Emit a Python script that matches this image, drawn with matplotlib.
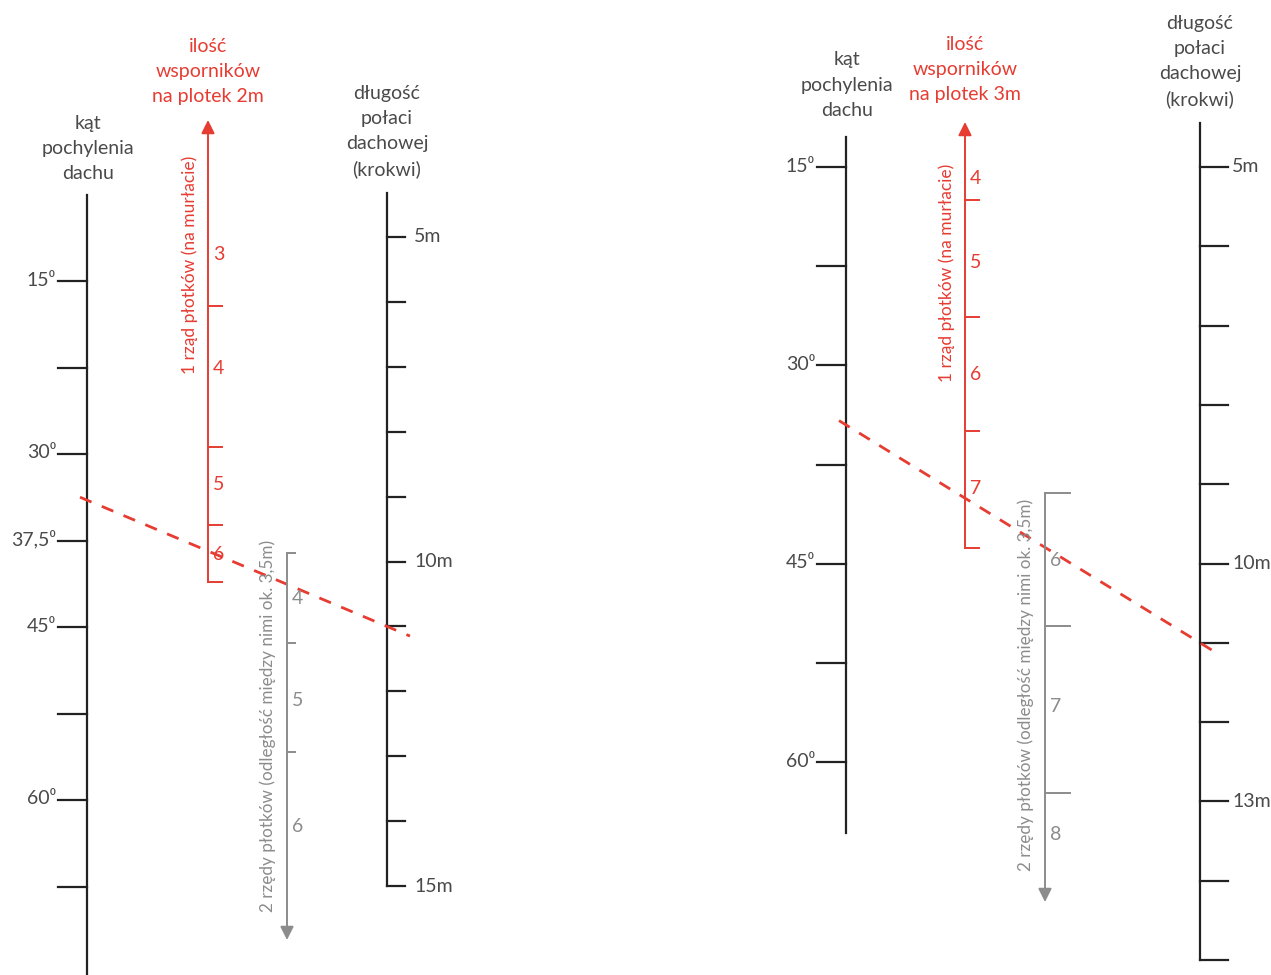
import matplotlib.pyplot as plt

plt.rcParams['font.family'] = ['Lato', 'DejaVu Sans']

RED = '#e63c32'
GRAY = '#8c8c8c'
INK = '#222222'
TXT = '#4a4a4a'

# ---- scale values ----
angle_ticks_L = [15, 22.5, 30, 37.5, 45, 52.5, 60, 67.5]
angle_labels_L = {15: '15⁰', 30: '30⁰', 37.5: '37,5⁰', 45: '45⁰', 60: '60⁰'}
angle_ticks_R = [15, 22.5, 30, 37.5, 45, 52.5, 60]
angle_labels_R = {15: '15⁰', 30: '30⁰', 45: '45⁰', 60: '60⁰'}

length_ticks = list(range(5, 16))
length_labels_L = {5: '5m', 10: '10m', 15: '15m'}
length_labels_R = {5: '5m', 10: '10m', 13: '13m'}

# supports per fence (one row, on the wall plate) - labels and boundaries
red_labels_L = ['3', '4', '5', '6']
red_label_y_L = [255, 369, 485, 555]
red_ticks_y_L = [306, 447, 525, 582]
red_labels_R = ['4', '5', '6', '7']
red_label_y_R = [178, 262, 375, 488]
red_ticks_y_R = [200, 317, 431, 548]

# two rows of fences
gray_labels_L = ['4', '5', '6']
gray_label_y_L = [598, 700, 826]
gray_ticks_y_L = [553, 643, 752]
gray_labels_R = ['6', '7', '8']
gray_label_y_R = [560, 707, 834]
gray_ticks_y_R = [493, 626, 793]

# example reading: angle -> length
example_L = (34.0, 11.0)
example_R = (34.5, 11.0)

hdr_angle = ['kąt', 'pochylenia', 'dachu']
hdr_red_L = ['ilość', 'wsporników', 'na plotek 2m']
hdr_red_R = ['ilość', 'wsporników', 'na plotek 3m']
hdr_len = ['długość', 'połaci', 'dachowej', '(krokwi)']
lbl_red = '1 rząd płotków (na murłacie)'
lbl_gray = '2 rzędy płotków (odległość między nimi ok. 3,5m)'

fig = plt.figure(figsize=(12.71, 9.75), dpi=100)
ax = fig.add_axes([0, 0, 1, 1])
ax.set_xlim(0, 1271)
ax.set_ylim(975, 0)
ax.axis('off')


def header(x, y0, lines, color):
    for i, s in enumerate(lines):
        ax.text(x, y0 + i * 25.3, s, color=color, fontsize=14,
                ha='center', va='center')


def panel(P):
    # angle scale
    ay = lambda a: P['a0'] + (a - 15) * P['astep'] / 7.5
    ax.plot([P['ax'], P['ax']], P['aspan'], color=INK, lw=1.6)
    for a in P['aticks']:
        ax.plot([P['ax'] - 29, P['ax']], [ay(a), ay(a)], color=INK, lw=1.6)
        if a in P['alabels']:
            ax.text(P['ax'] - 31, ay(a) - 1, P['alabels'][a], color=TXT,
                    fontsize=14, ha='right', va='center')
    # length scale
    ly = lambda l: P['l0'] + (l - 5) * P['lstep']
    ax.plot([P['lx'], P['lx']], P['lspan'], color=INK, lw=1.6)
    for l in length_ticks:
        ax.plot([P['lx'], P['lx'] + 28 if P['right'] else P['lx'] + 18],
                [ly(l), ly(l)], color=INK, lw=1.6)
        if l in P['llabels']:
            ax.text(P['lx'] + (32 if P['right'] else 27), ly(l), P['llabels'][l],
                    color=TXT, fontsize=14, ha='left', va='center')
    # red scale (arrow up)
    rx = P['rx']
    ax.annotate('', xy=(rx, P['rtop']), xytext=(rx, P['rticks'][-1]),
                arrowprops=dict(arrowstyle='-|>', color=RED, lw=1.4,
                                mutation_scale=20, shrinkA=0, shrinkB=0))
    for y in P['rticks']:
        ax.plot([rx, rx + 14], [y, y], color=RED, lw=1.4)
    for s, y in zip(P['rlabels'], P['rlabel_y']):
        ax.text(rx + 5, y, s, color=RED, fontsize=14, ha='left', va='center')
    ax.text(rx - 18, P['rtext_y'], lbl_red, color=RED, fontsize=12.5,
            rotation=90, ha='center', va='center')
    # gray scale (arrow down)
    gx = P['gx']
    ax.annotate('', xy=(gx, P['gbot']), xytext=(gx, P['gticks'][0]),
                arrowprops=dict(arrowstyle='-|>', color=GRAY, lw=1.4,
                                mutation_scale=20, shrinkA=0, shrinkB=0))
    for y in P['gticks']:
        ax.plot([gx, gx + P['gtick']], [y, y], color=GRAY, lw=1.4)
    for s, y in zip(P['glabels'], P['glabel_y']):
        ax.text(gx + 5, y, s, color=GRAY, fontsize=14, ha='left', va='center')
    ax.text(gx - 19, P['gtext_y'], lbl_gray, color=GRAY, fontsize=12.3,
            rotation=90, ha='center', va='center')
    # example line
    a, l = P['example']
    x1, y1 = P['ax'], ay(a)
    x2, y2 = P['lx'], ly(l)
    k = (y2 - y1) / (x2 - x1)
    ax.plot([x1 - 7, x2 + P['ext']], [y1 - 7 * k, y2 + P['ext'] * k],
            color=RED, lw=2, ls=(0, (4.5, 4)))
    # headers
    header(P['ax'] + 1, P['h_angle'], hdr_angle, TXT)
    header(rx, P['h_red'], P['hdr_red'], RED)
    header(P['lx'], P['h_len'], hdr_len, TXT)


panel(dict(ax=87, aspan=[195, 975], a0=281, astep=86.5, aticks=angle_ticks_L,
           alabels=angle_labels_L,
           lx=387, lspan=[193, 886], l0=237, lstep=64.9, llabels=length_labels_L,
           right=False,
           rx=208, rtop=120, rticks=red_ticks_y_L, rlabels=red_labels_L,
           rlabel_y=red_label_y_L, rtext_y=265,
           gx=287, gbot=940, gticks=gray_ticks_y_L, gtick=8,
           glabels=gray_labels_L, glabel_y=gray_label_y_L, gtext_y=726,
           example=example_L, ext=23,
           h_angle=123, h_red=46, h_len=93, hdr_red=hdr_red_L))

panel(dict(ax=846, aspan=[137, 833], a0=167, astep=99.2, aticks=angle_ticks_R,
           alabels=angle_labels_R,
           lx=1200, lspan=[123, 960], l0=167, lstep=79.3, llabels=length_labels_R,
           right=True,
           rx=965, rtop=122, rticks=red_ticks_y_R, rlabels=red_labels_R,
           rlabel_y=red_label_y_R, rtext_y=273,
           gx=1045, gbot=902, gticks=gray_ticks_y_R, gtick=25,
           glabels=gray_labels_R, glabel_y=gray_label_y_R, gtext_y=685,
           example=example_R, ext=13,
           h_angle=60, h_red=44, h_len=23, hdr_red=hdr_red_R))

fig.savefig('out.png', dpi=100)
